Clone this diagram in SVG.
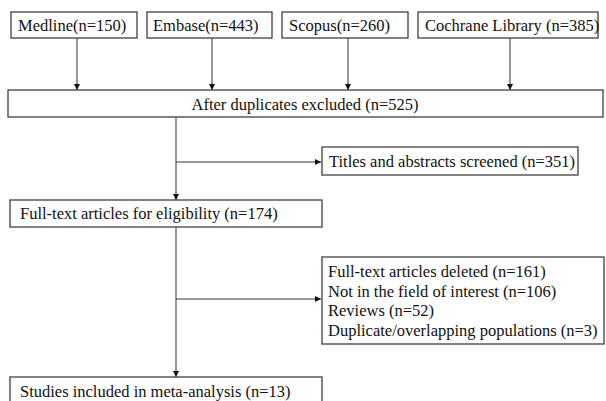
<svg xmlns="http://www.w3.org/2000/svg" width="606" height="401" viewBox="0 0 606 401">
<style>
.box{fill:#fff;stroke:#404040;stroke-width:1.3}
.t{font-size:16.5px;fill:#111}
.c{stroke:#333;stroke-width:1;fill:none}
</style>
<defs>
<marker id="ah" viewBox="0 0 10 10" refX="10" refY="5" markerWidth="6" markerHeight="6" orient="auto" markerUnits="userSpaceOnUse">
<path d="M0,0 L10,5 L0,10 z" fill="#111"/>
</marker>
</defs>
<rect width="606" height="401" fill="#fff"/>
<g id="connectors">
<line class="c" x1="77" y1="38" x2="77" y2="90" marker-end="url(#ah)"/>
<line class="c" x1="212" y1="38" x2="212" y2="90" marker-end="url(#ah)"/>
<line class="c" x1="348" y1="38" x2="348" y2="90" marker-end="url(#ah)"/>
<line class="c" x1="510" y1="38" x2="510" y2="90" marker-end="url(#ah)"/>
<line class="c" x1="176" y1="117" x2="176" y2="200" marker-end="url(#ah)"/>
<line class="c" x1="176" y1="162" x2="321" y2="162" marker-end="url(#ah)"/>
<line class="c" x1="176" y1="227" x2="176" y2="377" marker-end="url(#ah)"/>
<line class="c" x1="176" y1="299" x2="321" y2="299" marker-end="url(#ah)"/>
</g>
<g font-family="Liberation Serif, Times New Roman, DejaVu Serif, serif">
<g id="medline"><rect class="box" x="11" y="12" width="126" height="26"/><text class="t" x="18" y="31">Medline(n=150)</text></g>
<g id="embase"><rect class="box" x="147" y="12" width="125" height="26"/><text class="t" x="153" y="31">Embase(n=443)</text></g>
<g id="scopus"><rect class="box" x="282" y="12" width="126" height="26"/><text class="t" x="289" y="31">Scopus(n=260)</text></g>
<g id="cochrane"><rect class="box" x="418" y="12" width="180" height="26"/><text class="t" x="425" y="31">Cochrane Library (n=385)</text></g>
<g id="duplicates"><rect class="box" x="8" y="90" width="595" height="27"/><text class="t" x="305" y="110" text-anchor="middle">After duplicates excluded (n=525)</text></g>
<g id="titles"><rect class="box" x="322" y="147" width="256" height="28"/><text class="t" x="329" y="167">Titles and abstracts screened (n=351)</text></g>
<g id="fulltext"><rect class="box" x="10" y="200" width="312" height="27"/><text class="t" x="20" y="219">Full-text articles for eligibility (n=174)</text></g>
<g id="deleted"><rect class="box" x="322" y="257" width="282" height="87"/>
<text class="t" x="328" y="277">Full-text articles deleted (n=161)</text>
<text class="t" x="328" y="297">Not in the field of interest (n=106)</text>
<text class="t" x="328" y="316">Reviews (n=52)</text>
<text class="t" x="328" y="336">Duplicate/overlapping populations (n=3)</text>
</g>
<g id="studies"><rect class="box" x="10" y="377" width="312" height="30"/><text class="t" x="20" y="397">Studies included in meta-analysis (n=13)</text></g>
</g>
</svg>
